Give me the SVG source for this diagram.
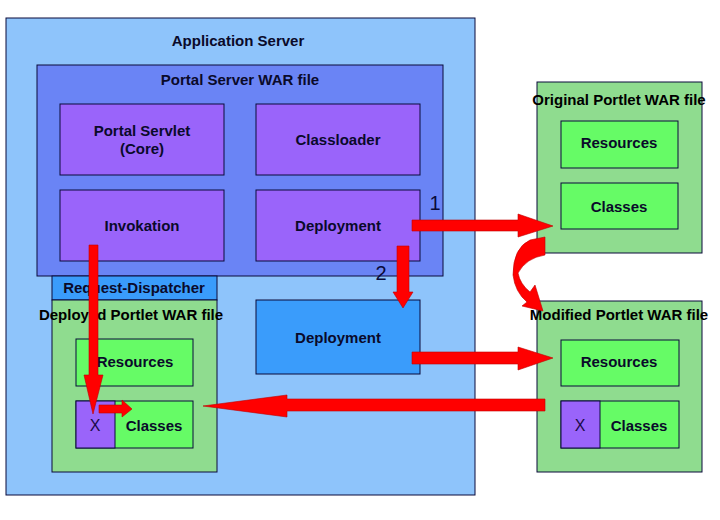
<svg xmlns="http://www.w3.org/2000/svg" width="720" height="520" viewBox="0 0 720 520">
<style>
.box{stroke:#0a0a3a;stroke-width:1}
.t{font-family:"Liberation Sans",Arial,sans-serif;font-size:15px;font-weight:bold;fill:#0a0a2a;text-anchor:middle}
.n{font-family:"Liberation Sans",Arial,sans-serif;font-size:20px;fill:#0a0a3a;text-anchor:middle}
.x{font-family:"Liberation Sans",Arial,sans-serif;font-size:16px;fill:#1a0a4a;text-anchor:middle}
.arr{fill:#ff0000;stroke:#c00000;stroke-width:0.6}
</style>
<rect width="720" height="520" fill="#ffffff"/>
<g id="app-server">
<rect class="box" x="6" y="18" width="469" height="477" fill="#8ec4fb"/>
<text class="t" x="238" y="46">Application Server</text>
</g>
<g id="portal-war">
<rect class="box" x="37" y="65" width="406" height="211" fill="#6a84f5"/>
<text class="t" x="240" y="85">Portal Server WAR file</text>
</g>
<g id="portal-servlet">
<rect class="box" x="60" y="104" width="164" height="71" fill="#9a64fa"/>
<text class="t" x="142" y="136">Portal Servlet</text>
<text class="t" x="142" y="154">(Core)</text>
</g>
<g id="classloader">
<rect class="box" x="256" y="104" width="164" height="71" fill="#9a64fa"/>
<text class="t" x="338" y="145">Classloader</text>
</g>
<g id="invokation">
<rect class="box" x="60" y="190" width="164" height="71" fill="#9a64fa"/>
<text class="t" x="142" y="231">Invokation</text>
</g>
<g id="deployment-core">
<rect class="box" x="256" y="190" width="164" height="71" fill="#9a64fa"/>
<text class="t" x="338" y="231">Deployment</text>
</g>
<g id="request-dispatcher">
<rect class="box" x="52" y="276" width="165" height="24" fill="#3a9cfb"/>
<text class="t" x="134" y="293">Request-Dispatcher</text>
</g>
<g id="deployed-war">
<rect class="box" x="52" y="300" width="165" height="172" fill="#8fdc8f"/>
<text class="t" x="131" y="320" style="fill:#000">Deployed Portlet WAR file</text>
</g>
<g id="deployed-resources">
<rect class="box" x="76" y="339" width="117" height="47" fill="#66fb66"/>
<text class="t" x="135" y="367">Resources</text>
</g>
<g id="deployed-classes">
<rect class="box" x="76" y="401" width="117" height="47" fill="#66fb66"/>
<rect class="box" x="76" y="401" width="39" height="47" fill="#9a64fa"/>
<text class="x" x="95" y="431">X</text>
<text class="t" x="154" y="431">Classes</text>
</g>
<g id="deployment-blue">
<rect class="box" x="256" y="300" width="164" height="74" fill="#3a9cfb"/>
<text class="t" x="338" y="343">Deployment</text>
</g>
<g id="original-war">
<rect class="box" x="537" y="82" width="165" height="171" fill="#8fdc8f"/>
<text class="t" x="619" y="105" style="fill:#000">Original Portlet WAR file</text>
</g>
<g id="original-resources">
<rect class="box" x="561" y="121" width="117" height="47" fill="#66fb66"/>
<text class="t" x="619" y="148">Resources</text>
</g>
<g id="original-classes">
<rect class="box" x="561" y="183" width="117" height="46" fill="#66fb66"/>
<text class="t" x="619" y="212">Classes</text>
</g>
<g id="modified-war">
<rect class="box" x="537" y="301" width="165" height="171" fill="#8fdc8f"/>
<text class="t" x="619" y="320" style="fill:#000">Modified Portlet WAR file</text>
</g>
<g id="modified-resources">
<rect class="box" x="561" y="340" width="118" height="46" fill="#66fb66"/>
<text class="t" x="619" y="367">Resources</text>
</g>
<g id="modified-classes">
<rect class="box" x="561" y="401" width="118" height="47" fill="#66fb66"/>
<rect class="box" x="561" y="401" width="39" height="47" fill="#9a64fa"/>
<text class="x" x="580" y="431">X</text>
<text class="t" x="639" y="431">Classes</text>
</g>
<g id="connectors">
<polygon class="arr" points="412,220 518,220 518,214 553,226 518,237 518,231 412,231"/>
<polygon class="arr" points="397,246 409,246 409,292 413,292 403,308 393,292 397,292"/>
<polygon class="arr" points="89,245 98,245 98,375 103,375 93,414 84,375 89,375"/>
<polygon class="arr" points="99,405 122,405 122,400 132,409 122,417 122,413 99,413"/>
<polygon class="arr" points="412,352 518,352 518,347 553,358 518,370 518,364 412,364"/>
<polygon class="arr" points="545,399 287,399 287,395 203,406 287,417 287,411 545,411"/>
<path class="arr" d="M545,237 L545,255 Q526,258 518,273 Q520,284 530,292 L535,285 L543,311 L522,306 L527,302 Q515,292 513,275 Q513,248 530,240 Z"/>
<text class="n" x="435" y="210">1</text>
<text class="n" x="381" y="280">2</text>
</g>
</svg>
